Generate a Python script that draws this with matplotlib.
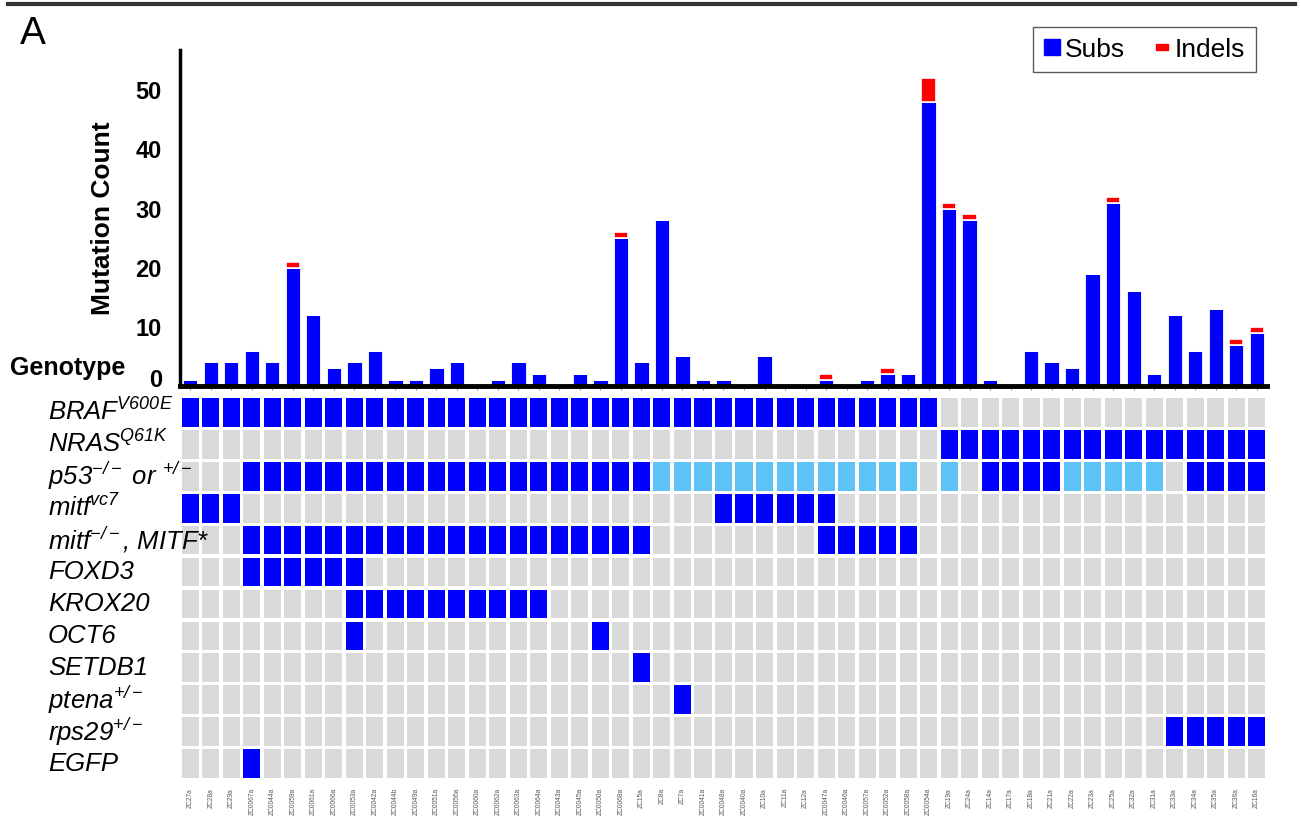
import matplotlib
matplotlib.use("Agg")
import matplotlib.pyplot as plt
from matplotlib.lines import Line2D
from matplotlib.path import Path
from matplotlib.transforms import blended_transform_factory, ScaledTranslation
import numpy as np

plt.rcParams["font.family"] = ["Liberation Sans", "DejaVu Sans"]
plt.rcParams["mathtext.fontset"] = "custom"
plt.rcParams["mathtext.rm"] = "Liberation Sans:italic"
plt.rcParams["mathtext.it"] = "Liberation Sans:italic"
plt.rcParams["mathtext.bf"] = "Liberation Sans:bold"

# sample ids (x axis of the oncoprint)
samples = ["ZC27a", "ZC28a", "ZC29a",
           "ZC0067a", "ZC0044a", "ZC0059a", "ZC0061a", "ZC0066a", "ZC0053a", "ZC0042a",
           "ZC0044b", "ZC0049a", "ZC0051a", "ZC0056a", "ZC0060a", "ZC0062a", "ZC0063a",
           "ZC0064a", "ZC0043a", "ZC0045a", "ZC0050a", "ZC0068a",
           "ZC15a", "ZC8a", "ZC7a",
           "ZC0041a", "ZC0048a", "ZC0040a",
           "ZC10a", "ZC11a", "ZC12a",
           "ZC0047a", "ZC0046a", "ZC0057a", "ZC0052a", "ZC0058a", "ZC0054a",
           "ZC19a", "ZC24a", "ZC14a", "ZC17a", "ZC18a", "ZC21a", "ZC22a", "ZC23a",
           "ZC25a", "ZC32a", "ZC31a", "ZC33a", "ZC34a", "ZC35a", "ZC36a", "ZC16a"]

subs = [1, 4, 4, 6, 4, 20, 12, 3, 4, 6,
        1, 1, 3, 4, 0, 1, 4, 2, 0, 2,
        1, 25, 4, 28, 5, 1, 1, 0, 5, 0,
        0, 1, 0, 1, 2, 2, 48, 30, 28, 1,
        0, 6, 4, 3, 19, 31, 16, 2, 12, 6,
        13, 7, 9]
indels = [0, 0, 0, 0, 0, 1, 0, 0, 0, 0,
          0, 0, 0, 0, 0, 0, 0, 0, 0, 0,
          0, 1, 0, 0, 0, 0, 0, 0, 0, 0,
          0, 1, 0, 0, 1, 0, 4, 1, 1, 0,
          0, 0, 0, 0, 0, 1, 0, 0, 0, 0,
          0, 1, 1]

gene_labels = [r"BRAF$^{V600E}$", r"NRAS$^{Q61K}$", r"p53$^{-/-}$ or ${}^{+/-}$",
               r"mitf$^{vc7}$", r"mitf$^{-/-}$, MITF*", "FOXD3", "KROX20", "OCT6",
               "SETDB1", r"ptena$^{+/-}$", r"rps29$^{+/-}$", "EGFP"]

# X = altered, o = p53 heterozygous (light), . = wild type
braf   = "XXXXXXXXXX XXXXXXXXXX XXXXXXXXXX XXXXXXX... .......... ..."
nras   = ".......... .......... .......... .......XXX XXXXXXXXXX XXX"
p53    = "...XXXXXXX XXXXXXXXXX XXXooooooo oooooo.o.X XXXooooo.X XXX"
mitf_v = "XXX....... .......... ......XXXX XX........ .......... ..."
mitf_k = "...XXXXXXX XXXXXXXXXX XXX....... .XXXXX.... .......... ..."
foxd3  = "...XXXXXX. .......... .......... .......... .......... ..."
krox20 = "........XX XXXXXXXX.. .......... .......... .......... ..."
oct6   = "........X. .......... X......... .......... .......... ..."
setdb1 = ".......... .......... ..X....... .......... .......... ..."
ptena  = ".......... .......... ....X..... .......... .......... ..."
rps29  = ".......... .......... .......... .......... ........XX XXX"
egfp   = "...X...... .......... .......... .......... .......... ..."
rows = [braf, nras, p53, mitf_v, mitf_k, foxd3, krox20, oct6, setdb1, ptena, rps29, egfp]

W, H = 1301, 816
def fx(px):
    return px / W
def fy(py):
    return 1 - py / H

fig = plt.figure(figsize=(13.01, 8.16), dpi=100)
x = np.arange(len(samples))

# --- mutation count bars ---
ax = fig.add_axes([fx(180), fy(386), fx(1267) - fx(180), fy(50) - fy(386)])
ax.bar(x, subs, width=0.7, color="#0000ff", edgecolor="white", linewidth=0.6)
ax.bar(x, indels, bottom=subs, width=0.7, color="#ff0000", edgecolor="white", linewidth=1.2)
ax.set_xlim(-0.5, len(samples) - 0.5)
ax.set_ylim(0, 56.8)
ax.set_yticks([0, 10, 20, 30, 40, 50])
ax.set_yticklabels(["0", "10", "20", "30", "40", "50"], fontsize=17, fontweight="bold")
ax.tick_params(axis="y", length=0, pad=13)
# the zero label sits a little above the axis line in the original
zero = ax.get_yticklabels()[0]
zero.set_transform(zero.get_transform() + ScaledTranslation(0, 6 / 72, fig.dpi_scale_trans))
ax.set_xticks(x)
ax.tick_params(axis="x", length=3, width=0.8, color="#999999", labelbottom=False)
for s in ["top", "right"]:
    ax.spines[s].set_visible(False)
ax.spines["left"].set_linewidth(2.5)
ax.spines["bottom"].set_linewidth(3.5)
ax.set_ylabel("Mutation Count", fontsize=19, fontweight="bold")
ax.yaxis.set_label_coords(-0.06, 0.5)

# --- genotype grid ---
axg = fig.add_axes([fx(180), fy(779.5), fx(1267) - fx(180), fy(396.5) - fy(779.5)])
colmap = {"X": "#0000ff", "o": "#5ec4f8", ".": "#d9d9d9"}
for r, row in enumerate(rows):
    codes = row.replace(" ", "")
    axg.bar(x, 0.9, bottom=r - 0.45, width=0.83,
            color=[colmap[c] for c in codes], linewidth=0)
axg.set_xlim(-0.5, len(samples) - 0.5)
axg.set_ylim(len(rows) - 0.5, -0.5)
axg.set_yticks([])
axg.set_xticks(x)
axg.set_xticklabels(samples, rotation=90, fontsize=4.8, color="#555555")
axg.tick_params(axis="x", length=0, pad=6)
for s in axg.spines.values():
    s.set_visible(False)

trans = blended_transform_factory(fig.transFigure, axg.transData)
for r, lab in enumerate(gene_labels):
    axg.text(fx(48), r, lab, transform=trans, fontsize=18.5, style="italic",
             ha="left", va="center", zorder=5)

fig.text(fx(10), fy(368), "Genotype", fontsize=18, fontweight="bold", va="center")
fig.text(fx(20), fy(44), "A", fontsize=28)
fig.add_artist(Line2D([fx(8), fx(1295)], [fy(4), fy(4)], color="#333333", lw=3))

# legend
rect = Path([(-1, -0.55), (1, -0.55), (1, 0.55), (-1, 0.55), (-1, -0.55)])
handles = [Line2D([], [], ls="", marker="s", markersize=11, color="#0000ff"),
           Line2D([], [], ls="", marker=rect, markersize=9, color="#ff0000")]
fig.legend(handles, ["Subs", "Indels"], loc="upper right",
           bbox_to_anchor=(fx(1256), fy(27)), ncol=2, fontsize=19,
           frameon=True, fancybox=False, edgecolor="#333333",
           handlelength=0.6, handletextpad=0.2, columnspacing=1.1,
           borderpad=0.4, borderaxespad=0)

fig.savefig("out.png", dpi=100)
